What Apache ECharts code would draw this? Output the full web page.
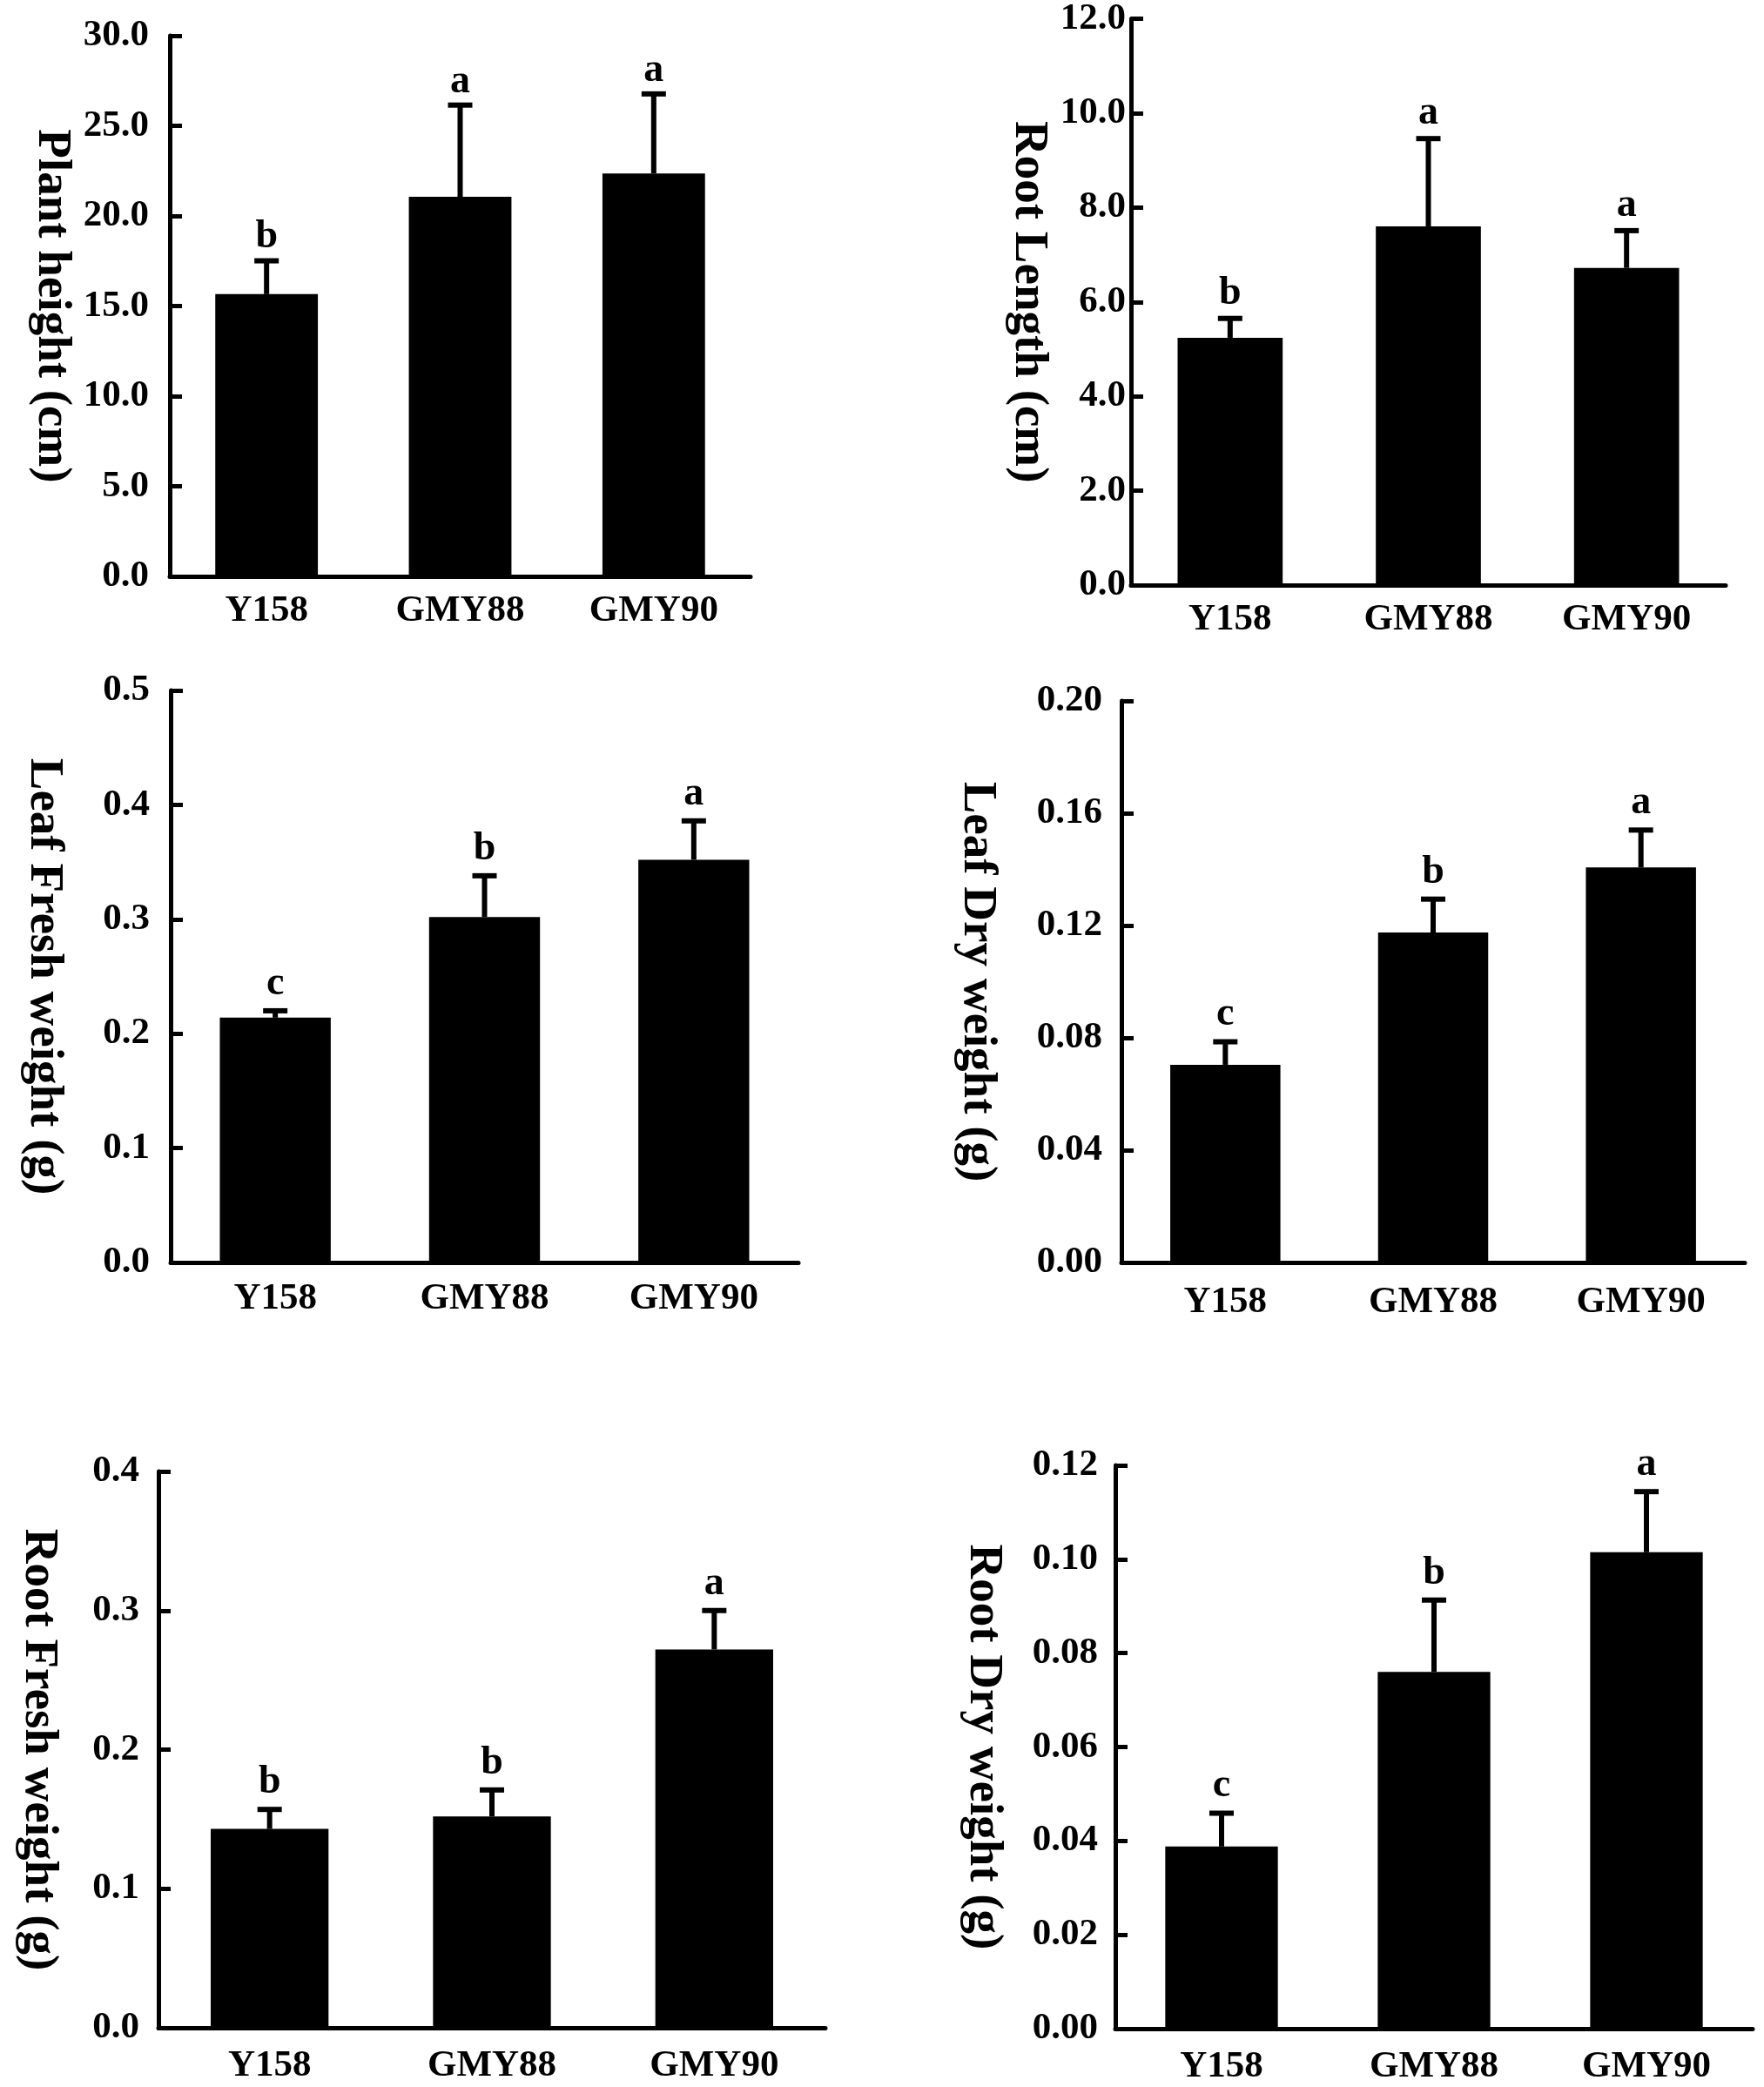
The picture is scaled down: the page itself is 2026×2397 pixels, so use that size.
<!DOCTYPE html>
<html>
<head>
<meta charset="utf-8">
<script src="https://cdn.jsdelivr.net/npm/echarts@6/dist/echarts.min.js"></script>
<style>
  html, body { margin: 0; padding: 0; background: #fff; }
  #chart { width: 2026px; height: 2397px; }
</style>
</head>
<body>
<div id="chart"></div>
<script>
// categories shared by all six panels
const categories = ['Y158', 'GMY88', 'GMY90'];

// mean values, upper error (SD) and significance letters per panel
const plantHeight = [15.66, 21.06, 22.36];
const plantHeightErr = [1.85, 5.09, 4.41];
const plantHeightSig = ['b', 'a', 'a'];

const rootLength = [5.24, 7.60, 6.72];
const rootLengthErr = [0.41, 1.86, 0.79];
const rootLengthSig = ['b', 'a', 'a'];

const leafFresh = [0.214, 0.302, 0.352];
const leafFreshErr = [0.006, 0.036, 0.034];
const leafFreshSig = ['c', 'b', 'a'];

const leafDry = [0.0704, 0.1175, 0.1407];
const leafDryErr = [0.0082, 0.0119, 0.0133];
const leafDrySig = ['c', 'b', 'a'];

const rootFresh = [0.143, 0.152, 0.272];
const rootFreshErr = [0.014, 0.019, 0.028];
const rootFreshSig = ['b', 'b', 'a'];

const rootDry = [0.0388, 0.0760, 0.1015];
const rootDryErr = [0.0071, 0.0153, 0.0129];
const rootDrySig = ['c', 'b', 'a'];

// y axis titles and ranges
const yNames = ['Plant height (cm)', 'Root Length (cm)', 'Leaf Fresh weight (g)',
  'Leaf Dry weight (g)', 'Root Fresh weight (g)', 'Root Dry weight (g)'];
const yMax = [30, 12, 0.5, 0.2, 0.4, 0.12];
const yStep = [5, 2, 0.1, 0.04, 0.1, 0.02];
const yDigits = [1, 1, 1, 2, 1, 2];

const means = [plantHeight, rootLength, leafFresh, leafDry, rootFresh, rootDry];
const errs = [plantHeightErr, rootLengthErr, leafFreshErr, leafDryErr, rootFreshErr, rootDryErr];
const sigs = [plantHeightSig, rootLengthSig, leafFreshSig, leafDrySig, rootFreshSig, rootDrySig];

// panel layout (pixels)
const grids = [
  { left: 195, top: 41, width: 667, height: 621 },
  { left: 1299, top: 20, width: 683, height: 652 },
  { left: 196, top: 793, width: 721, height: 657 },
  { left: 1288, top: 805, width: 716, height: 645 },
  { left: 182, top: 1690, width: 766, height: 639 },
  { left: 1281, top: 1683, width: 732, height: 647 }
];
const nameGaps = [108, 90, 118, 138, 110, 124];
const labelMargins = [24, 6, 24, 22, 22, 20];
const catMargins = [18, 18, 20, 24, 22, 22];
const sigGap = [4, 6, 8, 8, 8, 8];

const font = "'Liberation Serif', 'Times New Roman', serif";
const lineW = 5;

const chart = echarts.init(document.getElementById('chart'));

const xAxis = [], yAxis = [], series = [];
grids.forEach((g, i) => {
  xAxis.push({
    type: 'category',
    gridIndex: i,
    data: categories,
    axisLine: { lineStyle: { color: '#000', width: lineW } },
    axisTick: { inside: true, length: 14, lineStyle: { color: '#000', width: lineW } },
    axisLabel: {
      color: '#000', fontFamily: font, fontWeight: 'bold', fontSize: 43,
      margin: catMargins[i]
    },
    splitLine: { show: false }
  });
  yAxis.push({
    type: 'value',
    gridIndex: i,
    min: 0,
    max: yMax[i],
    interval: yStep[i],
    name: yNames[i],
    nameLocation: 'middle',
    nameRotate: -90,
    nameGap: nameGaps[i],
    nameTextStyle: { color: '#000', fontFamily: font, fontWeight: 'bold', fontSize: 55 },
    axisLine: { show: true, lineStyle: { color: '#000', width: lineW } },
    axisTick: { show: true, inside: true, length: 14, lineStyle: { color: '#000', width: lineW } },
    axisLabel: {
      color: '#000', fontFamily: font, fontWeight: 'bold', fontSize: 43,
      margin: labelMargins[i],
      formatter: v => v.toFixed(yDigits[i])
    },
    splitLine: { show: false }
  });
  series.push({
    type: 'bar',
    xAxisIndex: i,
    yAxisIndex: i,
    data: means[i],
    barWidth: '53%',
    itemStyle: { color: '#000' },
    silent: true
  });
  series.push({
    type: 'custom',
    xAxisIndex: i,
    yAxisIndex: i,
    data: means[i].map((m, k) => [k, m, errs[i][k]]),
    z: 5,
    silent: true,
    renderItem: (params, api) => {
      const k = api.value(0), m = api.value(1), e = api.value(2);
      const base = api.coord([k, m]);
      const top = api.coord([k, m + e]);
      const cap = 14;
      return {
        type: 'group',
        children: [
          { type: 'line', shape: { x1: base[0], y1: base[1], x2: top[0], y2: top[1] },
            style: { stroke: '#000', lineWidth: 6 } },
          { type: 'line', shape: { x1: top[0] - cap, y1: top[1], x2: top[0] + cap, y2: top[1] },
            style: { stroke: '#000', lineWidth: 6 } },
          { type: 'text', x: top[0], y: top[1] - sigGap[i],
            style: { text: sigs[i][params.dataIndex], fill: '#000', font: 'bold 46px ' + font,
              textAlign: 'center', textVerticalAlign: 'bottom' } }
        ]
      };
    }
  });
});

chart.setOption({
  animation: false,
  backgroundColor: '#fff',
  grid: grids,
  xAxis: xAxis,
  yAxis: yAxis,
  series: series
});
</script>
</body>
</html>
